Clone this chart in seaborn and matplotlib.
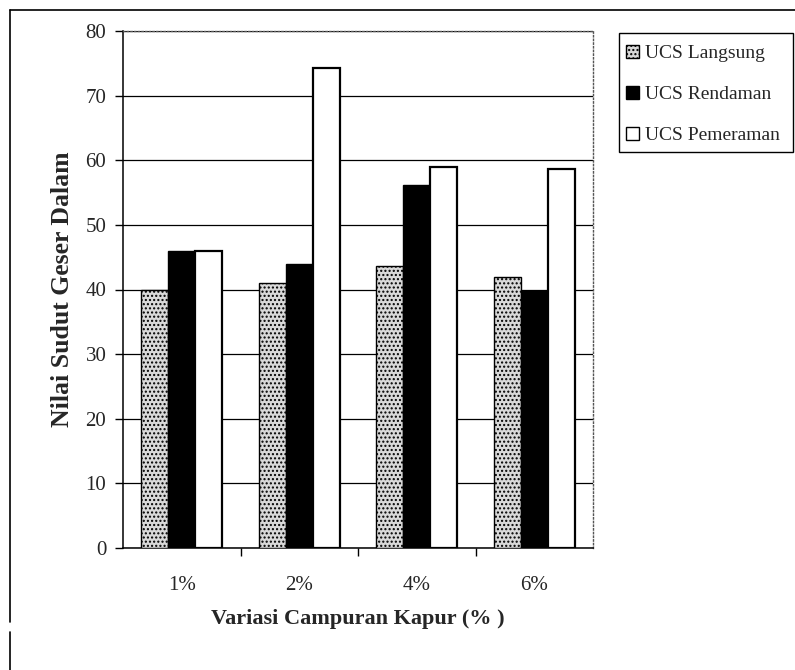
import matplotlib
matplotlib.use("Agg")
import matplotlib.pyplot as plt
from matplotlib.lines import Line2D
from matplotlib.patches import Patch, Rectangle
import seaborn as sns
import pandas as pd

# Data: internal friction angle per lime content and test condition
kadar_kapur = ["1%", "2%", "4%", "6%"]
ucs_langsung = [40.0, 41.0, 43.6, 42.0]
ucs_rendaman = [46.0, 44.0, 56.2, 39.7]
ucs_pemeraman = [45.9, 74.2, 58.9, 58.6]
seri = ["UCS Langsung", "UCS Rendaman", "UCS Pemeraman"]
y_ticks = [0, 10, 20, 30, 40, 50, 60, 70, 80]

df = pd.DataFrame({
    "Kapur": kadar_kapur * 3,
    "Nilai": ucs_langsung + ucs_rendaman + ucs_pemeraman,
    "Seri": [s for s in seri for _ in kadar_kapur],
})

W, H = 795, 670
sns.set_theme(style="white")
plt.rcParams["font.family"] = ["Liberation Serif", "DejaVu Serif"]

fig = plt.figure(figsize=(W / 100, H / 100), dpi=100)
ax = fig.add_axes([123 / W, 1 - 548 / H, 470 / W, 517 / H])

warna = ["#d9d9d9", "#000000", "#ffffff"]
sns.barplot(data=df, x="Kapur", y="Nilai", hue="Seri", order=kadar_kapur,
            hue_order=seri, width=0.69, ax=ax, legend=False,
            palette=warna, saturation=1,
            edgecolor="black", linewidth=1.0, zorder=3)

# stippled fill for the first series, heavier outline for the open bars
for bar in ax.containers[0]:
    bar.set_hatch("....")
    bar.set_edgecolor("black")
for bar in ax.containers[2]:
    bar.set_linewidth(1.6)

ax.set_ylim(0, 80)
ax.set_yticks(y_ticks)
ax.set_xlim(-0.5, len(kadar_kapur) - 0.5)
ax.yaxis.grid(True, color="black", linewidth=0.9, zorder=0)
ax.set_axisbelow(True)

# category boundary ticks on x axis
ax.set_xticks(range(len(kadar_kapur)))
ax.set_xticks([0.5, 1.5, 2.5], minor=True)
ax.tick_params(axis="x", which="major", length=0, pad=20, labelsize=15)
ax.tick_params(axis="x", which="minor", length=6, width=1, color="black",
               direction="out", bottom=True)
ax.tick_params(axis="y", length=6, width=1, color="black", direction="out",
               left=True, labelsize=15, pad=6)

for side in ["left", "bottom"]:
    ax.spines[side].set_color("black")
    ax.spines[side].set_linewidth(1.1)
for side in ["top", "right"]:
    ax.spines[side].set_color("#555555")
    ax.spines[side].set_linestyle(":")
    ax.spines[side].set_linewidth(1.0)

ax.set_xlabel("Variasi Campuran Kapur (% )", fontsize=16, fontweight="bold",
              labelpad=10)
ax.set_ylabel("Nilai Sudut Geser Dalam", fontsize=18.5, fontweight="bold",
              labelpad=8)

# legend with a frame running to the right edge
handles = [
    Patch(facecolor=warna[0], edgecolor="black", hatch="....", label=seri[0]),
    Patch(facecolor=warna[1], edgecolor="black", label=seri[1]),
    Patch(facecolor=warna[2], edgecolor="black", label=seri[2]),
]
leg = fig.legend(handles=handles, loc="upper left",
                 bbox_to_anchor=(620 / W, 1 - 39 / H), frameon=False,
                 fontsize=14, handlelength=0.7, handleheight=0.7,
                 handletextpad=0.3, labelspacing=1.2, borderpad=0.3,
                 borderaxespad=0)
fig.add_artist(Rectangle((619 / W, 1 - 152 / H), 174 / W, 119 / H,
                         transform=fig.transFigure, facecolor="none",
                         edgecolor="black", linewidth=1.0))

# page frame lines
fig.add_artist(Line2D([10 / W, 1.0], [1 - 10 / H, 1 - 10 / H],
                      transform=fig.transFigure, color="black", linewidth=1.2))
fig.add_artist(Line2D([10 / W, 10 / W], [1 - 10 / H, 1 - 622 / H],
                      transform=fig.transFigure, color="black", linewidth=1.2))
fig.add_artist(Line2D([10 / W, 10 / W], [1 - 632 / H, 0.0],
                      transform=fig.transFigure, color="black", linewidth=1.2))

fig.savefig("out.png", dpi=100, facecolor="white")
